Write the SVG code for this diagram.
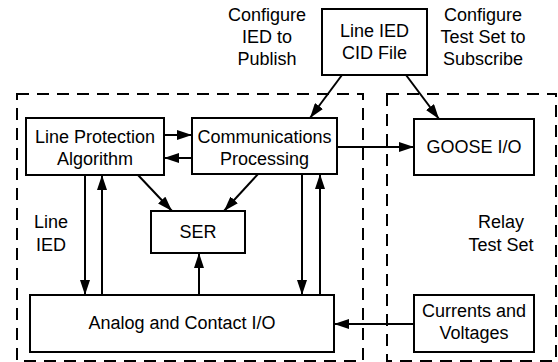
<svg xmlns="http://www.w3.org/2000/svg" width="558" height="362" viewBox="0 0 558 362">
<defs>
<marker id="ah" markerUnits="userSpaceOnUse" markerWidth="15" markerHeight="10" refX="15" refY="5" orient="auto">
<path d="M0,0 L15,5 L0,10 z" fill="#000"/>
</marker>
<style>
.box{fill:#fff;stroke:#000;stroke-width:2}
.dash{fill:none;stroke:#000;stroke-width:2;stroke-dasharray:12 8}
.t{font-family:"Liberation Sans",Arial,sans-serif;font-size:18px;fill:#000;text-anchor:middle}
.c{fill:none;stroke:#000;stroke-width:2;marker-end:url(#ah)}
</style>
</defs>
<rect width="558" height="362" fill="#fff"/>
<g id="line-ied-boundary">
<rect class="dash" x="17" y="94" width="346" height="267"/>
<text class="t" x="51" y="228">Line</text>
<text class="t" x="51" y="251">IED</text>
</g>
<g id="test-set-boundary">
<rect class="dash" x="387" y="94" width="169" height="267"/>
<text class="t" x="501" y="228">Relay</text>
<text class="t" x="501" y="251">Test Set</text>
</g>
<g id="label-publish">
<text class="t" x="267" y="21">Configure</text>
<text class="t" x="267" y="43">IED to</text>
<text class="t" x="267" y="65">Publish</text>
</g>
<g id="label-subscribe">
<text class="t" x="483" y="21">Configure</text>
<text class="t" x="483" y="43">Test Set to</text>
<text class="t" x="483" y="65">Subscribe</text>
</g>
<g id="cid">
<rect class="box" x="322" y="9" width="105" height="66"/>
<text class="t" x="374.5" y="37">Line IED</text>
<text class="t" x="374.5" y="59">CID File</text>
</g>
<g id="lpa">
<rect class="box" x="26" y="118" width="138" height="57"/>
<text class="t" x="95" y="143">Line Protection</text>
<text class="t" x="95" y="165">Algorithm</text>
</g>
<g id="comms">
<rect class="box" x="192" y="118" width="145" height="56"/>
<text class="t" x="264.5" y="143">Communications</text>
<text class="t" x="264.5" y="165">Processing</text>
</g>
<g id="goose">
<rect class="box" x="414" y="119" width="120" height="56"/>
<text class="t" x="474" y="153">GOOSE I/O</text>
</g>
<g id="ser">
<rect class="box" x="151" y="211" width="94" height="42"/>
<text class="t" x="198" y="238">SER</text>
</g>
<g id="analog">
<rect class="box" x="30" y="295" width="304" height="57"/>
<text class="t" x="182" y="329">Analog and Contact I/O</text>
</g>
<g id="currents">
<rect class="box" x="414" y="295" width="120" height="57"/>
<text class="t" x="474" y="317">Currents and</text>
<text class="t" x="474" y="339">Voltages</text>
</g>
<g id="connectors">
<line class="c" x1="342" y1="75" x2="310" y2="118"/>
<line class="c" x1="406" y1="75" x2="439" y2="119"/>
<line class="c" x1="164" y1="135" x2="192" y2="135"/>
<line class="c" x1="192" y1="158" x2="164" y2="158"/>
<line class="c" x1="138" y1="175" x2="172" y2="211"/>
<line class="c" x1="258" y1="174" x2="224" y2="211"/>
<line class="c" x1="337" y1="147" x2="414" y2="147"/>
<line class="c" x1="85" y1="175" x2="85" y2="295"/>
<line class="c" x1="102" y1="295" x2="102" y2="175"/>
<line class="c" x1="199" y1="295" x2="199" y2="253"/>
<line class="c" x1="302" y1="174" x2="302" y2="295"/>
<line class="c" x1="320" y1="295" x2="320" y2="174"/>
<line class="c" x1="414" y1="324" x2="334" y2="324"/>
</g>
</svg>
